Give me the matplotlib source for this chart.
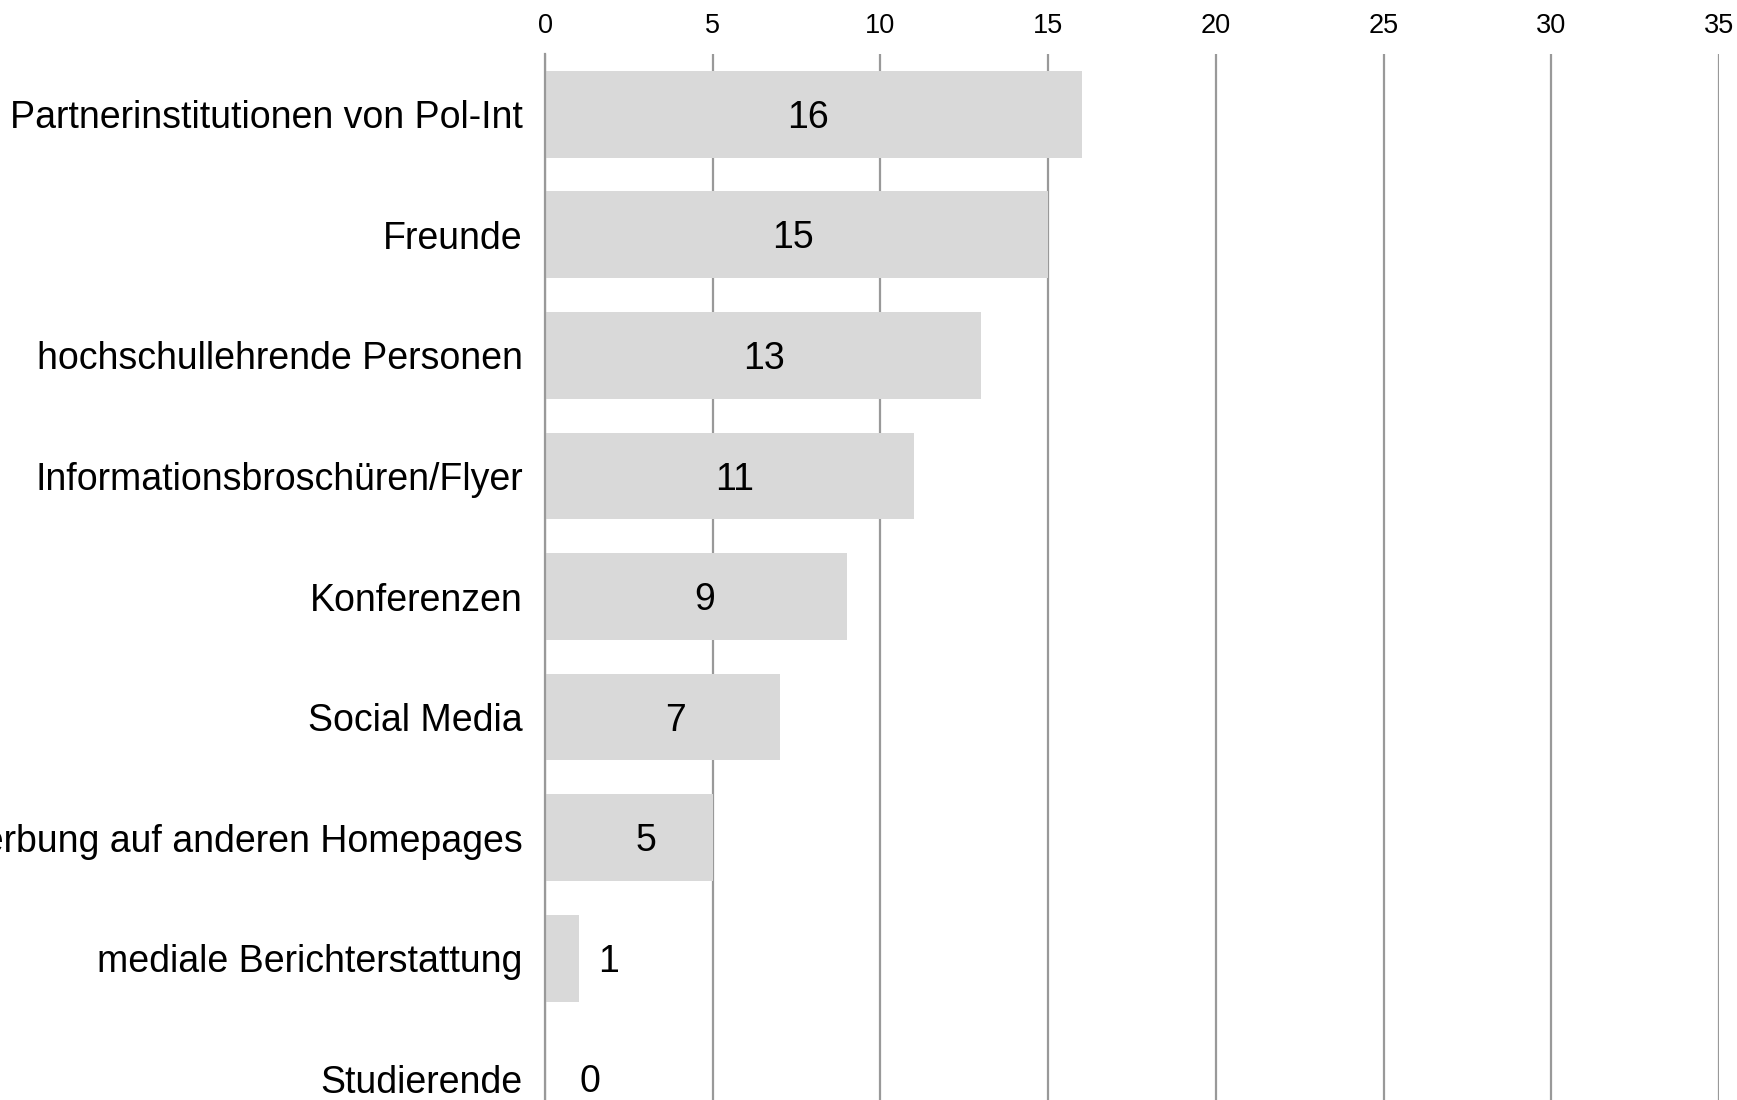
import matplotlib
matplotlib.use("Agg")
import matplotlib.pyplot as plt
import numpy as np

plt.rcParams["font.family"] = ["Liberation Sans", "DejaVu Sans"]

categories = [
    "Partnerinstitutionen von Pol-Int",
    "Freunde",
    "hochschullehrende Personen",
    "Informationsbroschüren/Flyer",
    "Konferenzen",
    "Social Media",
    "Werbung auf anderen Homepages",
    "mediale Berichterstattung",
    "Studierende",
]
values = [16, 15, 13, 11, 9, 7, 5, 1, 0]
x_ticks = [0, 5, 10, 15, 20, 25, 30, 35]

fig = plt.figure(figsize=(17.37, 11.0), dpi=100)
ax = fig.add_axes([0.3138, -0.0355, 0.6758, 0.9864])

y = np.arange(len(categories))
ax.barh(y, values, height=0.72, color="#d9d9d9", zorder=2)

# labels inside the bar when it is long enough, otherwise just right of it
for yi, v in zip(y, values):
    if v >= 5:
        lx = v * 0.44 + 0.8
    else:
        lx = v * 0.55 + 1.35
    ax.text(lx, yi + 0.03, str(v), ha="center", va="center", fontsize=27, color="black", zorder=3)

ax.set_xlim(0, 35)
ax.set_ylim(len(categories) - 0.5, -0.5)
ax.set_xticks(x_ticks)
ax.xaxis.tick_top()
ax.tick_params(axis="x", length=0, pad=11, labelsize=19.5)
ax.set_yticks(y)
ax.set_yticklabels(categories, fontsize=27)
ax.tick_params(axis="y", length=0, pad=16)

ax.grid(axis="x", color="#999999", linewidth=1.6, zorder=1)
ax.grid(axis="y", visible=False)
for side in ["top", "right", "bottom"]:
    ax.spines[side].set_visible(False)
ax.spines["left"].set_color("#999999")
ax.spines["left"].set_linewidth(1.6)

fig.savefig("out.png", dpi=100)
